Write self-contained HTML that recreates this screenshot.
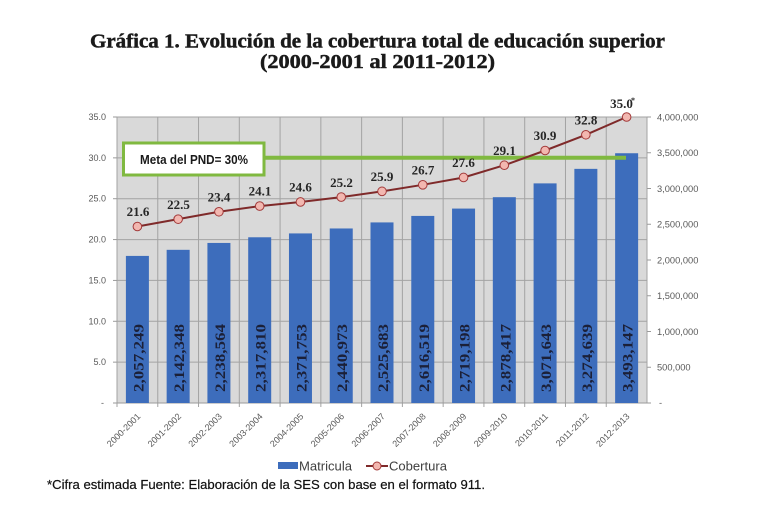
<!DOCTYPE html>
<html>
<head>
<meta charset="utf-8">
<style>
html,body{margin:0;padding:0;background:#fff;}
svg{display:block;}
</style>
</head>
<body>
<svg width="772" height="515" viewBox="0 0 772 515" xmlns="http://www.w3.org/2000/svg">
<rect x="0" y="0" width="772" height="515" fill="#ffffff"/>

<!-- Title -->
<text x="90" y="47.5" font-family="'Liberation Serif', serif" font-weight="bold" font-size="19.5" fill="#1a1a1a" stroke="#1a1a1a" stroke-width="0.45" textLength="575" lengthAdjust="spacingAndGlyphs">Gráfica 1. Evolución de la cobertura total de educación superior</text>
<text x="260" y="68" font-family="'Liberation Serif', serif" font-weight="bold" font-size="19.5" fill="#1a1a1a" stroke="#1a1a1a" stroke-width="0.45" textLength="235" lengthAdjust="spacingAndGlyphs">(2000-2001 al 2011-2012)</text>

<!-- Plot background -->
<rect x="117" y="117" width="530" height="286" fill="#d9d9d9"/>

<!-- Horizontal gridlines -->
<g stroke="#a3a3a3" stroke-width="1">
<line x1="117" y1="117" x2="647" y2="117"/>
<line x1="117" y1="157.86" x2="647" y2="157.86"/>
<line x1="117" y1="198.71" x2="647" y2="198.71"/>
<line x1="117" y1="239.57" x2="647" y2="239.57"/>
<line x1="117" y1="280.43" x2="647" y2="280.43"/>
<line x1="117" y1="321.29" x2="647" y2="321.29"/>
<line x1="117" y1="362.14" x2="647" y2="362.14"/>
</g>
<!-- Vertical gridlines -->
<g stroke="#a3a3a3" stroke-width="1">
<line x1="117" y1="117" x2="117" y2="407"/>
<line x1="157.77" y1="117" x2="157.77" y2="407"/>
<line x1="198.54" y1="117" x2="198.54" y2="407"/>
<line x1="239.31" y1="117" x2="239.31" y2="407"/>
<line x1="280.08" y1="117" x2="280.08" y2="407"/>
<line x1="320.85" y1="117" x2="320.85" y2="407"/>
<line x1="361.62" y1="117" x2="361.62" y2="407"/>
<line x1="402.39" y1="117" x2="402.39" y2="407"/>
<line x1="443.16" y1="117" x2="443.16" y2="407"/>
<line x1="483.93" y1="117" x2="483.93" y2="407"/>
<line x1="524.7" y1="117" x2="524.7" y2="407"/>
<line x1="565.47" y1="117" x2="565.47" y2="407"/>
<line x1="606.24" y1="117" x2="606.24" y2="407"/>
<line x1="647" y1="117" x2="647" y2="403"/>
</g>
<!-- Axis line -->
<line x1="113" y1="403" x2="651" y2="403" stroke="#9a9a9a" stroke-width="1"/>
<!-- left ticks -->
<g stroke="#9a9a9a" stroke-width="1">
<line x1="113" y1="117" x2="117" y2="117"/>
<line x1="113" y1="157.86" x2="117" y2="157.86"/>
<line x1="113" y1="198.71" x2="117" y2="198.71"/>
<line x1="113" y1="239.57" x2="117" y2="239.57"/>
<line x1="113" y1="280.43" x2="117" y2="280.43"/>
<line x1="113" y1="321.29" x2="117" y2="321.29"/>
<line x1="113" y1="362.14" x2="117" y2="362.14"/>
</g>
<!-- right ticks -->
<g stroke="#9a9a9a" stroke-width="1">
<line x1="647" y1="117" x2="651" y2="117"/>
<line x1="647" y1="152.75" x2="651" y2="152.75"/>
<line x1="647" y1="188.5" x2="651" y2="188.5"/>
<line x1="647" y1="224.25" x2="651" y2="224.25"/>
<line x1="647" y1="260" x2="651" y2="260"/>
<line x1="647" y1="295.75" x2="651" y2="295.75"/>
<line x1="647" y1="331.5" x2="651" y2="331.5"/>
<line x1="647" y1="367.25" x2="651" y2="367.25"/>
</g>

<!-- Left axis labels -->
<g font-family="'Liberation Sans', sans-serif" font-size="9" fill="#595959" text-anchor="end">
<text x="106" y="120">35.0</text>
<text x="106" y="160.9">30.0</text>
<text x="106" y="201.7">25.0</text>
<text x="106" y="242.6">20.0</text>
<text x="106" y="283.4">15.0</text>
<text x="106" y="324.3">10.0</text>
<text x="106" y="365.1">5.0</text>
<text x="104" y="406">-</text>
</g>
<!-- Right axis labels -->
<g font-family="'Liberation Sans', sans-serif" font-size="9.3" fill="#595959">
<text x="657" y="120.3">4,000,000</text>
<text x="657" y="156">3,500,000</text>
<text x="657" y="191.8">3,000,000</text>
<text x="657" y="227.5">2,500,000</text>
<text x="657" y="263.3">2,000,000</text>
<text x="657" y="299">1,500,000</text>
<text x="657" y="334.8">1,000,000</text>
<text x="657" y="370.5">500,000</text>
<text x="659" y="406">-</text>
</g>

<!-- Bars -->
<g fill="#3d6dbc">
<rect x="125.9" y="255.91" width="23" height="147.09"/>
<rect x="166.65" y="249.82" width="23" height="153.18"/>
<rect x="207.42" y="242.94" width="23" height="160.06"/>
<rect x="248.2" y="237.28" width="23" height="165.72"/>
<rect x="288.97" y="233.42" width="23" height="169.58"/>
<rect x="329.74" y="228.47" width="23" height="174.53"/>
<rect x="370.5" y="222.41" width="23" height="180.59"/>
<rect x="411.28" y="215.92" width="23" height="187.08"/>
<rect x="452.05" y="208.58" width="23" height="194.42"/>
<rect x="492.82" y="197.19" width="23" height="205.81"/>
<rect x="533.59" y="183.38" width="23" height="219.62"/>
<rect x="574.36" y="168.86" width="23" height="234.14"/>
<rect x="615.13" y="153.24" width="23" height="249.76"/>
</g>

<!-- Rotated bar labels -->
<g font-family="'Liberation Serif', serif" font-weight="bold" font-size="15" fill="#1b2038">
<text transform="translate(143.4,392) rotate(-90)" textLength="68" lengthAdjust="spacingAndGlyphs">2,057,249</text>
<text transform="translate(184.2,392) rotate(-90)" textLength="68" lengthAdjust="spacingAndGlyphs">2,142,348</text>
<text transform="translate(224.9,392) rotate(-90)" textLength="68" lengthAdjust="spacingAndGlyphs">2,238,564</text>
<text transform="translate(265.7,392) rotate(-90)" textLength="68" lengthAdjust="spacingAndGlyphs">2,317,810</text>
<text transform="translate(306.5,392) rotate(-90)" textLength="68" lengthAdjust="spacingAndGlyphs">2,371,753</text>
<text transform="translate(347.2,392) rotate(-90)" textLength="68" lengthAdjust="spacingAndGlyphs">2,440,973</text>
<text transform="translate(388,392) rotate(-90)" textLength="68" lengthAdjust="spacingAndGlyphs">2,525,683</text>
<text transform="translate(428.8,392) rotate(-90)" textLength="68" lengthAdjust="spacingAndGlyphs">2,616,519</text>
<text transform="translate(469.5,392) rotate(-90)" textLength="68" lengthAdjust="spacingAndGlyphs">2,719,198</text>
<text transform="translate(510.3,392) rotate(-90)" textLength="68" lengthAdjust="spacingAndGlyphs">2,878,417</text>
<text transform="translate(551.1,392) rotate(-90)" textLength="68" lengthAdjust="spacingAndGlyphs">3,071,643</text>
<text transform="translate(591.9,392) rotate(-90)" textLength="68" lengthAdjust="spacingAndGlyphs">3,274,639</text>
<text transform="translate(632.6,392) rotate(-90)" textLength="68" lengthAdjust="spacingAndGlyphs">3,493,147</text>
</g>

<!-- Meta line and box -->
<line x1="265" y1="157.7" x2="626" y2="157.7" stroke="#80b940" stroke-width="4"/>
<rect x="123.5" y="143" width="140.5" height="32" fill="#ffffff" stroke="#80b940" stroke-width="3"/>
<text x="140" y="164" font-family="'Liberation Sans', sans-serif" font-weight="bold" font-size="13" fill="#1a1a1a" textLength="108" lengthAdjust="spacingAndGlyphs">Meta del PND= 30%</text>

<!-- Cobertura line -->
<polyline fill="none" stroke="#7f2a2a" stroke-width="2" points="137.39,226.5 178.16,219.14 218.93,211.79 259.7,206.07 300.47,201.98 341.24,197.08 382.01,191.36 422.78,184.82 463.55,177.47 504.32,165.21 545.09,150.5 585.86,134.78 626.63,117"/>
<g fill="#f2b7b0" stroke="#a33a3a" stroke-width="1">
<circle cx="137.39" cy="226.5" r="4.3"/>
<circle cx="178.16" cy="219.14" r="4.3"/>
<circle cx="218.93" cy="211.79" r="4.3"/>
<circle cx="259.7" cy="206.07" r="4.3"/>
<circle cx="300.47" cy="201.98" r="4.3"/>
<circle cx="341.24" cy="197.08" r="4.3"/>
<circle cx="382.01" cy="191.36" r="4.3"/>
<circle cx="422.78" cy="184.82" r="4.3"/>
<circle cx="463.55" cy="177.47" r="4.3"/>
<circle cx="504.32" cy="165.21" r="4.3"/>
<circle cx="545.09" cy="150.5" r="4.3"/>
<circle cx="585.86" cy="134.78" r="4.3"/>
<circle cx="626.63" cy="117" r="4.3"/>
</g>

<!-- Coverage data labels -->
<g font-family="'Liberation Serif', serif" font-weight="bold" font-size="13" fill="#262626" text-anchor="middle">
<text x="138" y="216">21.6</text>
<text x="178.5" y="209">22.5</text>
<text x="219" y="201.5">23.4</text>
<text x="260" y="195.5">24.1</text>
<text x="300.5" y="191.5">24.6</text>
<text x="341.5" y="187">25.2</text>
<text x="382" y="181">25.9</text>
<text x="423" y="174.5">26.7</text>
<text x="463.5" y="167">27.6</text>
<text x="504.5" y="155">29.1</text>
<text x="545" y="140">30.9</text>
<text x="586" y="124.5">32.8</text>
<text x="621.5" y="108">35.0</text>
<text x="633" y="103" font-size="8">*</text>
</g>

<!-- X axis labels -->
<g font-family="'Liberation Sans', sans-serif" font-size="9" fill="#595959" text-anchor="end">
<text transform="translate(141,417) rotate(-45)">2000-2001</text>
<text transform="translate(181.8,417) rotate(-45)">2001-2002</text>
<text transform="translate(222.5,417) rotate(-45)">2002-2003</text>
<text transform="translate(263.3,417) rotate(-45)">2003-2004</text>
<text transform="translate(304.1,417) rotate(-45)">2004-2005</text>
<text transform="translate(344.8,417) rotate(-45)">2005-2006</text>
<text transform="translate(385.6,417) rotate(-45)">2006-2007</text>
<text transform="translate(426.4,417) rotate(-45)">2007-2008</text>
<text transform="translate(467.1,417) rotate(-45)">2008-2009</text>
<text transform="translate(507.9,417) rotate(-45)">2009-2010</text>
<text transform="translate(548.7,417) rotate(-45)">2010-2011</text>
<text transform="translate(589.5,417) rotate(-45)">2011-2012</text>
<text transform="translate(630.2,417) rotate(-45)">2012-2013</text>
</g>

<!-- Legend -->
<rect x="278" y="462" width="20" height="7" fill="#3d6dbc"/>
<text x="299" y="470.5" font-family="'Liberation Sans', sans-serif" font-size="13" fill="#404040" textLength="53" lengthAdjust="spacingAndGlyphs">Matricula</text>
<line x1="366" y1="466" x2="388" y2="466" stroke="#7f2a2a" stroke-width="2"/>
<circle cx="377" cy="466" r="4" fill="#f2b7b0" stroke="#a33a3a" stroke-width="1"/>
<text x="389" y="470.5" font-family="'Liberation Sans', sans-serif" font-size="13" fill="#404040" textLength="58" lengthAdjust="spacingAndGlyphs">Cobertura</text>

<!-- Footer -->
<text x="47" y="489" font-family="'Liberation Sans Narrow', 'Liberation Sans', sans-serif" font-size="12.5" fill="#111111" stroke="#111111" stroke-width="0.2" textLength="438" lengthAdjust="spacingAndGlyphs">*Cifra estimada Fuente: Elaboración de la SES con base en el formato 911.</text>
</svg>
</body>
</html>
